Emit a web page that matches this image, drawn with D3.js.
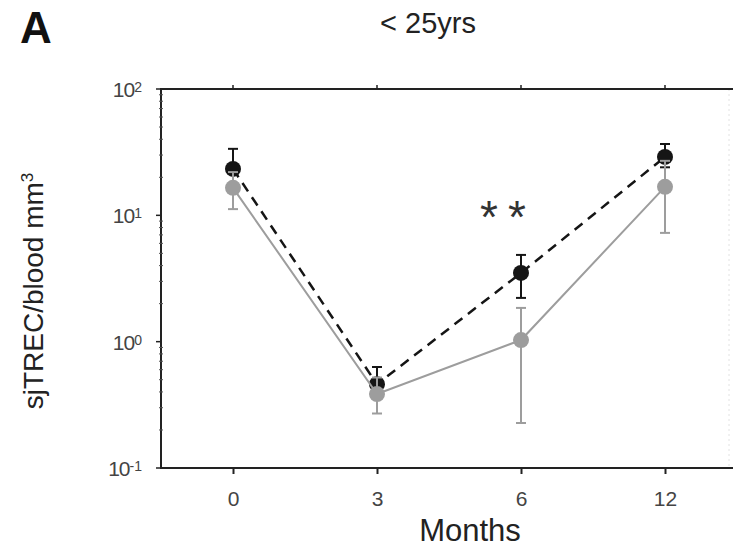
<!DOCTYPE html>
<head>
  <meta charset="utf-8">
  <script src="https://d3js.org/d3.v7.min.js"></script>
  <style>
    body { margin: 0; background: #fff; }
    text { font-family: "Liberation Sans", Arial, sans-serif; }
  </style>
</head>
<body>
<div id="chart"></div>
<script>
// months (categorical, equally spaced)
var months = ["0", "3", "6", "12"];
// black dashed series
var blackMean = [23.3, 0.46, 3.5, 29];
var blackLow  = [17, 0.36, 2.22, 24];
var blackHigh = [33.6, 0.63, 4.86, 36.7];
// gray solid series
var grayMean = [16.5, 0.385, 1.03, 16.8];
var grayLow  = [11.2, 0.27, 0.227, 7.26];
var grayHigh = [22, 0.52, 1.85, 27];
var yTicks = [0.1, 1, 10, 100];
var yTickExp = ["-1", "0", "1", "2"];

var width = 733, height = 548;
var plotLeft = 161, plotTop = 89, plotBottom = 468;

var svg = d3.select("#chart").append("svg")
    .attr("width", width)
    .attr("height", height);

var x = d3.scalePoint().domain(months).range([plotLeft, 737]).padding(0.5);
var y = d3.scaleLog().domain([0.1, 100]).range([plotBottom, plotTop]);

// minor ticks on log axis
var minor = [];
[0.1, 1, 10].forEach(function(d) {
    for (var k = 2; k < 10; k++) minor.push(d * k);
});

// faint right border
svg.append("line")
    .attr("x1", 729).attr("x2", 729)
    .attr("y1", plotTop).attr("y2", plotBottom)
    .attr("stroke", "#e2e2e2").attr("stroke-width", 1)
    .attr("stroke-dasharray", "2,3");

// y axis
var yAxis = svg.append("g").attr("transform", "translate(" + plotLeft + ",0)");
yAxis.append("line")
    .attr("y1", plotTop).attr("y2", plotBottom)
    .attr("stroke", "#222").attr("stroke-width", 2);
yAxis.selectAll(".major").data(yTicks).enter().append("line")
    .attr("x1", -5).attr("x2", 0)
    .attr("y1", function(d) { return y(d); })
    .attr("y2", function(d) { return y(d); })
    .attr("stroke", "#222").attr("stroke-width", 1.5);
yAxis.selectAll(".minor").data(minor).enter().append("line")
    .attr("x1", -2).attr("x2", 2)
    .attr("y1", function(d) { return y(d); })
    .attr("y2", function(d) { return y(d); })
    .attr("stroke", "#555").attr("stroke-width", 1);
var yl = yAxis.selectAll(".lab").data(yTicks).enter().append("text")
    .attr("x", -19)
    .attr("y", function(d) { return y(d) + 8; })
    .attr("text-anchor", "end")
    .attr("fill", "#444")
    .style("font-size", "21px");
yl.append("tspan").text("10").style("letter-spacing", "-1px");
yl.append("tspan")
    .attr("dy", -5)
    .style("font-size", "14px")
    .text(function(d, i) { return yTickExp[i]; });

// top and bottom frame lines
svg.append("line")
    .attr("x1", plotLeft - 1).attr("x2", width)
    .attr("y1", plotTop).attr("y2", plotTop)
    .attr("stroke", "#222").attr("stroke-width", 2);

var xAxis = svg.append("g").attr("transform", "translate(0," + plotBottom + ")")
    .call(d3.axisBottom(x).tickSize(6).tickSizeOuter(0).tickPadding(17));
xAxis.select(".domain").remove();
xAxis.append("line")
    .attr("x1", plotLeft - 1).attr("x2", width)
    .attr("stroke", "#222").attr("stroke-width", 2);
xAxis.selectAll(".tick line").attr("stroke", "#222").attr("stroke-width", 2);
xAxis.selectAll(".tick text")
    .attr("fill", "#444")
    .style("font-size", "21px")
    .style("font-family", "Liberation Sans, Arial, sans-serif");

// top ticks
svg.selectAll(".ttick").data(months).enter().append("line")
    .attr("x1", function(d) { return x(d); })
    .attr("x2", function(d) { return x(d); })
    .attr("y1", plotTop - 4).attr("y2", plotTop)
    .attr("stroke", "#222").attr("stroke-width", 1.5);

// series
var line = d3.line()
    .x(function(d) { return x(d.m); })
    .y(function(d) { return y(d.v); });

function series(mean, low, high, color, dash, lw) {
    var pts = months.map(function(m, i) {
        return { m: m, v: mean[i], lo: low[i], hi: high[i] };
    });
    var g = svg.append("g");
    g.selectAll(".err").data(pts).enter().append("line")
        .attr("x1", function(d) { return x(d.m); })
        .attr("x2", function(d) { return x(d.m); })
        .attr("y1", function(d) { return y(d.lo); })
        .attr("y2", function(d) { return y(d.hi); })
        .attr("stroke", color).attr("stroke-width", 2);
    g.selectAll(".capHi").data(pts).enter().append("line")
        .attr("x1", function(d) { return x(d.m) - 5; })
        .attr("x2", function(d) { return x(d.m) + 5; })
        .attr("y1", function(d) { return y(d.hi); })
        .attr("y2", function(d) { return y(d.hi); })
        .attr("stroke", color).attr("stroke-width", 2);
    g.selectAll(".capLo").data(pts).enter().append("line")
        .attr("x1", function(d) { return x(d.m) - 5; })
        .attr("x2", function(d) { return x(d.m) + 5; })
        .attr("y1", function(d) { return y(d.lo); })
        .attr("y2", function(d) { return y(d.lo); })
        .attr("stroke", color).attr("stroke-width", 2);
    g.append("path")
        .datum(pts)
        .attr("d", line)
        .attr("fill", "none")
        .attr("stroke", color)
        .attr("stroke-width", lw)
        .attr("stroke-dasharray", dash);
    g.selectAll("circle").data(pts).enter().append("circle")
        .attr("cx", function(d) { return x(d.m); })
        .attr("cy", function(d) { return y(d.v); })
        .attr("r", 8)
        .attr("fill", color);
}

series(blackMean, blackLow, blackHigh, "#151515", "10,7", 2.5);
series(grayMean, grayLow, grayHigh, "#9d9d9d", null, 2);

// significance mark
svg.append("text")
    .attr("x", 480).attr("y", 233)
    .attr("fill", "#333")
    .style("font-size", "46px")
    .style("letter-spacing", "10px")
    .text("**");

// titles
svg.append("text")
    .attr("x", 20).attr("y", 43)
    .attr("fill", "#111")
    .style("font-size", "44px")
    .style("font-weight", "bold")
    .text("A");
svg.append("text")
    .attr("x", 428).attr("y", 33)
    .attr("text-anchor", "middle")
    .attr("fill", "#222")
    .style("font-size", "29px")
    .text("< 25yrs");
svg.append("text")
    .attr("x", 470).attr("y", 541)
    .attr("text-anchor", "middle")
    .attr("fill", "#222")
    .style("font-size", "31px")
    .text("Months");

var ylab = svg.append("text")
    .attr("transform", "translate(43,291) rotate(-90)")
    .attr("text-anchor", "middle")
    .attr("fill", "#222")
    .style("font-size", "28px");
ylab.append("tspan").text("sjTREC/blood mm");
ylab.append("tspan").attr("dy", -10).style("font-size", "17px").text("3");
</script>
</body>
</html>
